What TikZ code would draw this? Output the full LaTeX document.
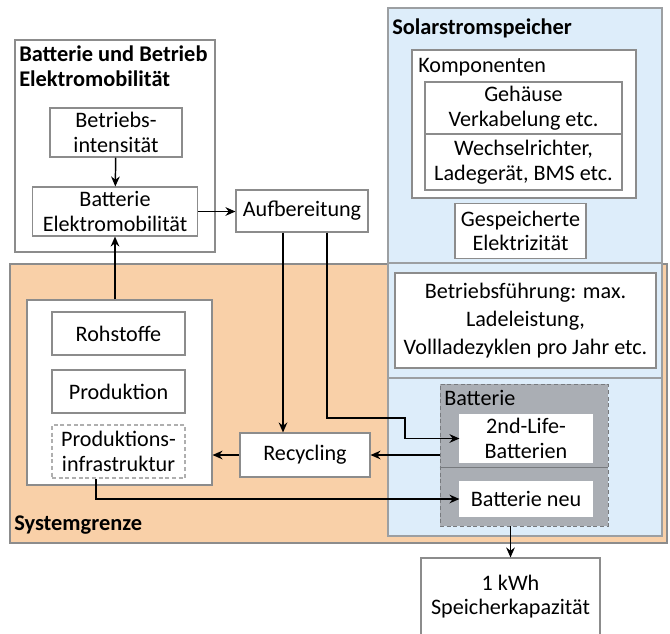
\documentclass[tikz,border=0pt]{standalone}
\usepackage{fontspec}
\setmainfont{Carlito}
\usepackage{tikz}
\usetikzlibrary{arrows.meta,calc}
\definecolor{grenze}{RGB}{249,208,168}
\definecolor{solar}{RGB}{221,237,250}
\definecolor{akku}{RGB}{170,174,180}
\definecolor{rahmen}{RGB}{140,140,140}
\tikzstyle{arrow} = [line width=1.1pt,->,>={Stealth[length=7.5pt,width=6.5pt]}]
\tikzstyle{feld} = [draw=rahmen, fill=white, line width=0.8pt, align=center, inner sep=1pt]
\tikzstyle{titel} = [anchor=north west, inner sep=0pt, align=left]

\begin{document}
\begin{tikzpicture}[x=0.75pt,y=-0.75pt,font=\fontsize{16.6}{18.5}\selectfont]
\useasboundingbox (0,0) rectangle (670,633);

% Systemgrenze (orange) und Solarstromspeicher (blau)
\draw[draw=rahmen, fill=grenze, line width=0.8pt] (10,264) rectangle (667,543);
\draw[draw=rahmen!80!solar, fill=solar, line width=0.8pt] (388,8) rectangle (662,263);
\draw[draw=rahmen!80!solar, fill=solar, line width=0.8pt] (388,263) rectangle (662,378);
\draw[draw=rahmen!80!solar, fill=solar, line width=0.8pt] (388,378) rectangle (662,536);
\draw[draw=rahmen, fill=white, line width=0.8pt] (15,40) rectangle (215,252);

% Titel
\node[titel, font=\fontsize{16.8}{18.5}\selectfont\bfseries] (tBE) at (19,46) {Batterie und Betrieb\\Elektromobilität};
\node[titel, font=\fontsize{16.8}{18.5}\selectfont\bfseries] (tSolar) at (392,19) {Solarstromspeicher};
\node[titel, font=\fontsize{16.8}{18.5}\selectfont\bfseries] (tGrenze) at (14,516) {Systemgrenze};

% Elektromobilitaet
\node[feld, minimum width=99pt, minimum height=36.75pt] (betr) at (116,132.5) {Betriebs-\\intensität};
\node[feld, minimum width=123.75pt, minimum height=36.75pt] (battE) at (115,211.5) {Batterie\\Elektromobilität};
\node[feld, minimum width=99pt, minimum height=31.5pt] (aufb) at (302,211) {Aufbereitung};

% Herstellung
\node[feld, minimum width=138.75pt, minimum height=138.75pt] (herst) at (119.5,392.5) {};
\node[feld, minimum width=99.75pt, minimum height=32.25pt] (roh) at (118.5,333.5) {Rohstoffe};
\node[feld, minimum width=99.75pt, minimum height=32.25pt] (prod) at (118.5,391.5) {Produktion};
\node[feld, draw=rahmen!70, densely dashed, minimum width=99.75pt, minimum height=39.75pt] (infra) at (118.5,451.5) {Produktions-\\infrastruktur};
\node[feld, minimum width=97.5pt, minimum height=33pt] (recyc) at (305,455) {Recycling};

% Solarstromspeicher
\node[feld, minimum width=168pt, minimum height=111pt] (komp) at (524,124) {};
\node[titel] (tKomp) at (418,58) {Komponenten};
\node[feld, minimum width=147.75pt, minimum height=39pt] (gehaeuse) at (523.5,108) {Gehäuse\\Verkabelung etc.};
\node[feld, minimum width=147.75pt, minimum height=42pt] (wechsel) at (523.5,162) {Wechselrichter,\\Ladegerät, BMS etc.};
\node[feld, minimum width=98.25pt, minimum height=41.25pt] (elek) at (520.5,231) {Gespeicherte\\Elektrizität};
\node[feld, font=\fontsize{16.6}{21}\selectfont, minimum width=195.75pt, minimum height=71.25pt] (fuehrung) at (525.5,320.5) {Betriebsführung: max.\\Ladeleistung,\\Vollladezyklen pro Jahr etc.};

% Batterie
\node[draw=akku!70!black, fill=akku, densely dashed, line width=0.6pt, minimum width=126pt, minimum height=106.5pt] (batt) at (524,455) {};
\draw[akku!70!black, line width=0.6pt] (batt.west |- 0,467) -- (batt.east |- 0,467);
\node[titel] (tBatt) at (444,390) {Batterie};
\node[feld, draw=white, minimum width=99pt, minimum height=35.25pt] (zweit) at (526,438.5) {2nd-Life-\\Batterien};
\node[feld, draw=white, minimum width=99pt, minimum height=25.5pt] (neu) at (526,499) {Batterie neu};
\node[feld, minimum width=134.25pt, minimum height=57.75pt] (kwh) at (510.5,596.5) {1 kWh\\Speicherkapazität};

% Verbindungen
\draw[arrow] (betr) -- (battE);
\draw[arrow] (battE.east) -- (battE.east -| aufb.west);
\draw[arrow] (herst.north -| battE.south) -- (battE.south);
\coordinate (a1) at ($(aufb.south)+(-19,0)$);
\draw[arrow] (a1) -- (a1 |- recyc.north);
\coordinate (a2) at ($(aufb.south)+(25,0)$);
\coordinate (knick) at (405,418);
\draw[arrow] (a2) |- (knick) |- (zweit.west);
\draw[arrow] (batt.west |- recyc.east) -- (recyc.east);
\draw[arrow] (recyc.west) -- (recyc.west -| herst.east);
\coordinate (i1) at ($(infra.south)+(-22.5,0)$);
\draw[arrow] (i1) |- (neu.west);
\draw[arrow] (batt.south -| kwh.north) -- (kwh.north);
\end{tikzpicture}
\end{document}
